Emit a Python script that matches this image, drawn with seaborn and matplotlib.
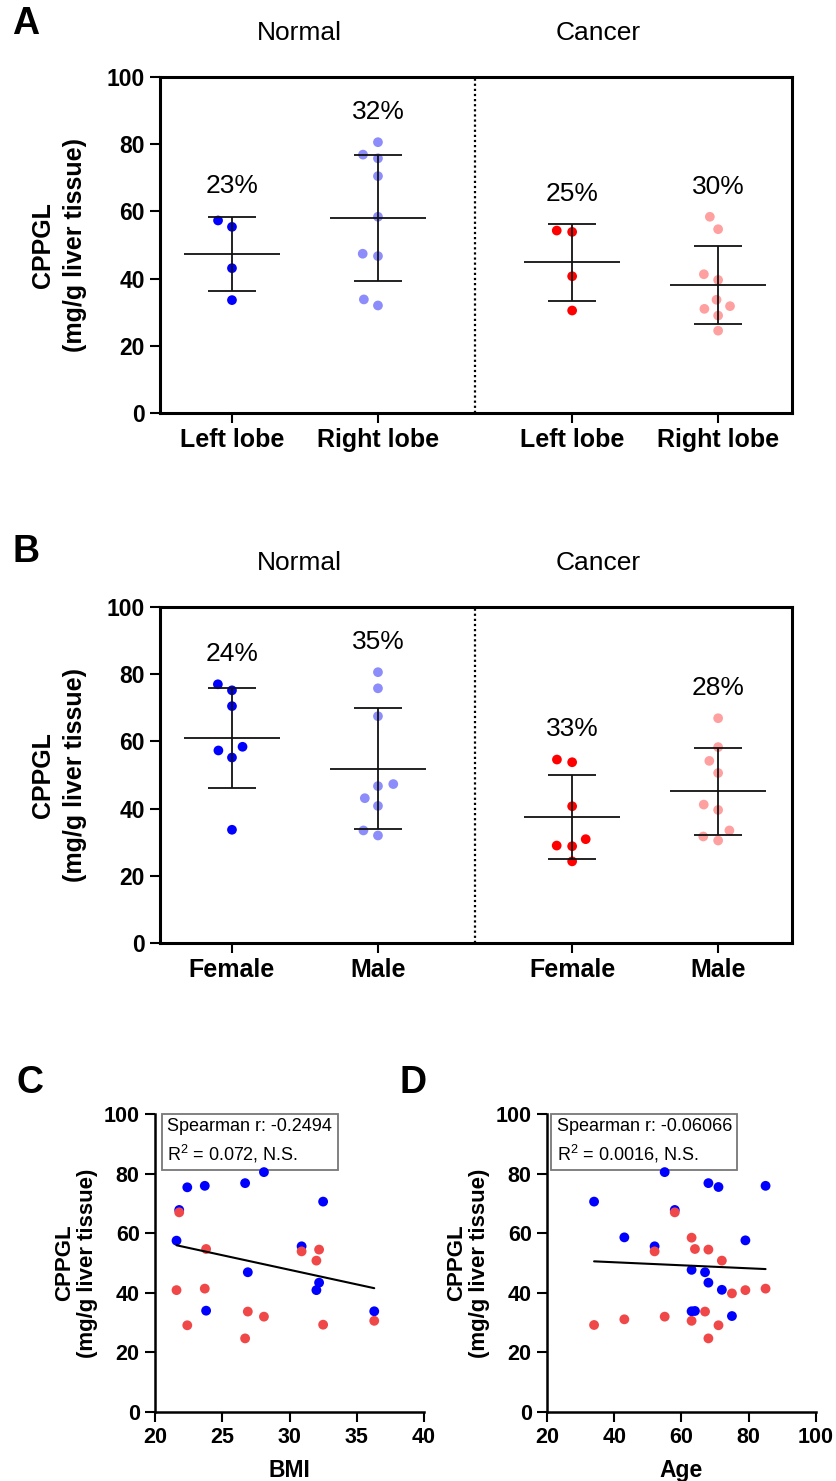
import matplotlib
matplotlib.use("Agg")
import matplotlib.pyplot as plt
import seaborn as sns
import numpy as np
import pandas as pd

# panel A: CPPGL by lobe
a_norm_left = [57.3, 55.4, 43.1, 33.6]
a_norm_right = [80.6, 76.9, 75.8, 70.5, 58.4, 47.4, 46.7, 33.8, 32.0]
a_canc_left = [54.3, 53.9, 40.7, 30.5]
a_canc_right = [58.4, 54.7, 41.3, 39.6, 33.7, 31.8, 31.0, 29.0, 24.5]
a_labels = ["Left lobe", "Right lobe", "Left lobe", "Right lobe"]
a_cv = ["23%", "32%", "25%", "30%"]

# panel B: CPPGL by sex
b_norm_female = [77.0, 75.2, 70.5, 58.4, 57.3, 55.2, 33.7]
b_norm_male = [80.6, 75.8, 67.5, 47.3, 46.7, 43.1, 40.8, 33.5, 32.0]
b_canc_female = [54.6, 53.8, 40.7, 30.9, 29.0, 28.8, 24.3]
b_canc_male = [66.9, 58.3, 54.2, 50.6, 41.2, 39.6, 33.5, 31.7, 30.5]
b_labels = ["Female", "Male", "Female", "Male"]
b_cv = ["24%", "35%", "33%", "28%"]

# panel C: BMI
bmi = [21.6, 21.8, 22.4, 23.7, 23.8, 26.7, 26.9, 28.1, 30.9, 32.0, 32.2, 32.5, 36.3]
c_normal = [57.5, 67.8, 75.4, 75.9, 34.0, 76.8, 46.9, 80.5, 55.6, 40.9, 43.4, 70.6, 33.8]
c_cancer = [40.9, 67.0, 29.1, 41.4, 54.7, 24.7, 33.7, 32.0, 53.9, 50.8, 54.5, 29.3, 30.6]
c_text = "Spearman r: -0.2494\nR$^2$ = 0.072, N.S."

# panel D: age
age = [34, 43, 52, 55, 58, 63, 63, 64, 67, 68, 68, 71, 72, 75, 79, 85]
d_normal = [70.6, 58.6, 55.6, 80.5, 67.8, 47.7, 33.8, 33.9, 46.9, 76.8, 43.4, 75.5, 41.0, 32.2, 57.6, 75.9]
d_cancer = [29.2, 31.1, 53.9, 32.0, 67.0, 58.5, 30.6, 54.7, 33.7, 24.7, 54.5, 29.1, 50.8, 39.8, 40.9, 41.4]
d_text = "Spearman r: -0.06066\nR$^2$ = 0.0016, N.S."

group_pos = [0, 1, 2.33, 3.33]
group_colors = ["#0000ff", "#8c8cfa", "#ff0000", "#ffa0a0"]
scatter_pal = {"Normal": "#0000ff", "Cancer": "#f04848"}

sns.set_style("ticks")
plt.rcParams["font.family"] = ["Liberation Sans", "DejaVu Sans"]
plt.rcParams.update({
    "text.color": "black", "axes.labelcolor": "black", "axes.edgecolor": "black",
    "xtick.color": "black", "ytick.color": "black",
    "mathtext.fontset": "custom", "mathtext.rm": "Liberation Sans",
    "mathtext.it": "Liberation Sans:italic", "mathtext.bf": "Liberation Sans:bold",
    "mathtext.default": "regular",
})

W, H = 837, 1481
fig = plt.figure(figsize=(W / 100, H / 100), dpi=100)
swarms = []


def rect(l, t, r, b):
    return [l / W, 1 - b / H, (r - l) / W, (b - t) / H]


def group_panel(ax, groups, labels, cvs):
    rows = []
    for i, vals in enumerate(groups):
        for v in vals:
            rows.append({"pos": group_pos[i], "val": v, "grp": i})
    df = pd.DataFrame(rows)
    n0 = len(ax.collections)
    # swarm laid out with wide spacing, dots shrunk afterwards (GraphPad-like)
    sns.swarmplot(data=df, x="pos", y="val", hue="grp", palette=group_colors,
                  native_scale=True, orient="x", size=10.6, linewidth=0,
                  legend=False, ax=ax, zorder=2)
    swarms.extend(ax.collections[n0:])
    stats = df.groupby("pos")["val"].agg(["mean", "std", "max"])
    for (p, row), cv in zip(stats.iterrows(), cvs):
        ax.hlines(row["mean"], p - 0.33, p + 0.33, color="#111111", lw=1.3, zorder=3)
        ax.errorbar(p, row["mean"], yerr=row["std"], fmt="none", ecolor="#111111",
                    elinewidth=1.3, capsize=17, capthick=1.3, zorder=3)
        top = max(row["max"], row["mean"] + row["std"])
        ax.text(p, top + 9, cv, ha="center", va="center", fontsize=19)
    ax.axvline(1.664, color="black", lw=1.6, ls=(0, (1, 1.3)))
    ax.set_xlim(-0.493, 3.836)
    ax.set_ylim(0, 100)
    ax.set_xticks(group_pos)
    ax.set_xticklabels(labels, fontsize=18, fontweight="bold")
    ax.set_yticks(range(0, 101, 20))
    ax.set_yticklabels([str(t) for t in range(0, 101, 20)], fontsize=16.5, fontweight="bold")
    ax.set_xlabel("")
    ax.set_ylabel("CPPGL\n(mg/g liver tissue)", fontsize=18, fontweight="bold",
                  linespacing=1.4, labelpad=14)
    for s in ax.spines.values():
        s.set_linewidth(2.2)
    ax.tick_params(width=1.5, length=7, pad=4)


def corr_panel(ax, x, normal, cancer, xlabel, xlim, xticks, text, tx):
    df = pd.DataFrame({
        "x": list(x) + list(x),
        "val": list(normal) + list(cancer),
        "tissue": ["Normal"] * len(x) + ["Cancer"] * len(x),
    })
    sns.scatterplot(data=df, x="x", y="val", hue="tissue", palette=scatter_pal,
                    s=50, linewidth=0, legend=False, ax=ax, zorder=4)
    sns.regplot(data=df, x="x", y="val", scatter=False, ci=None, color="black",
                line_kws={"lw": 1.5, "zorder": 5}, ax=ax)
    ax.set_xlim(*xlim)
    ax.set_ylim(0, 100)
    ax.set_xticks(xticks)
    ax.set_xticklabels([str(t) for t in xticks], fontsize=15.5, fontweight="bold")
    ax.set_yticks(range(0, 101, 20))
    ax.set_yticklabels([str(t) for t in range(0, 101, 20)], fontsize=15.5, fontweight="bold")
    ax.set_xlabel(xlabel, fontsize=16.5, fontweight="bold", labelpad=8)
    ax.set_ylabel("CPPGL\n(mg/g liver tissue)", fontsize=16, fontweight="bold",
                  linespacing=1.15, labelpad=4)
    sns.despine(ax=ax)
    for s in ax.spines.values():
        s.set_linewidth(1.8)
    ax.tick_params(width=1.5, length=7, pad=4)
    ax.text(tx, 0.985, text, transform=ax.transAxes, ha="left", va="top",
            fontsize=13, linespacing=1.4, zorder=3,
            bbox=dict(boxstyle="square,pad=0.3", fc="white", ec="#777777", lw=1.3))


ax_a = fig.add_axes(rect(160, 77, 792, 413))
group_panel(ax_a, [a_norm_left, a_norm_right, a_canc_left, a_canc_right], a_labels, a_cv)

ax_b = fig.add_axes(rect(160, 607, 792, 943))
group_panel(ax_b, [b_norm_female, b_norm_male, b_canc_female, b_canc_male], b_labels, b_cv)

ax_c = fig.add_axes(rect(155, 1114, 424, 1412))
corr_panel(ax_c, bmi, c_normal, c_cancer, "BMI", (20, 40), [20, 25, 30, 35, 40], c_text, 0.046)

ax_d = fig.add_axes(rect(547, 1114, 816, 1412))
corr_panel(ax_d, age, d_normal, d_cancer, "Age", (20, 100), [20, 40, 60, 80, 100], d_text, 0.036)

# group headers and panel letters
for y in (33, 563):
    fig.text(299 / W, 1 - y / H, "Normal", ha="center", va="center", fontsize=19)
    fig.text(598 / W, 1 - y / H, "Cancer", ha="center", va="center", fontsize=19)
for letter, x, y in [("A", 26, 24), ("B", 26, 552), ("C", 30, 1083), ("D", 413, 1083)]:
    fig.text(x / W, 1 - y / H, letter, ha="center", va="center", fontsize=27, fontweight="bold")

# fix the swarm layout, then draw smaller dots at those positions
fig.canvas.draw()
for coll in swarms:
    if "draw" in coll.__dict__:
        del coll.draw
    coll.set_sizes([7.0 ** 2])

fig.savefig("out.png", dpi=100)
